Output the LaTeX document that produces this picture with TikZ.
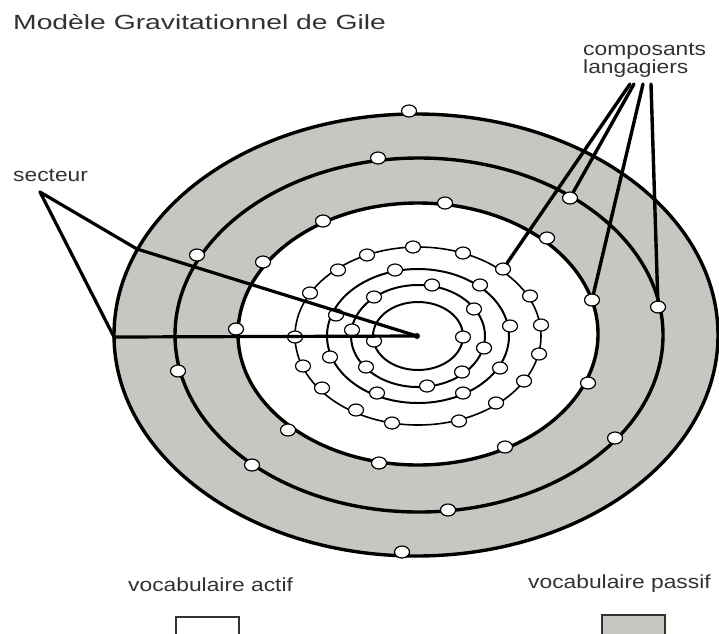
\documentclass[tikz,border=0pt]{standalone}
\usepackage{fontspec}
\usetikzlibrary{shapes.geometric}
\newfontfamily\labfont[FakeStretch=1.2]{Liberation Sans}
\newfontfamily\titfont[FakeStretch=1.38]{Liberation Sans}
\definecolor{ringgray}{RGB}{200,198,192}
\definecolor{txt}{RGB}{50,50,50}
\begin{document}
\begin{tikzpicture}[x=1pt,y=-1pt,
  bigline/.style={line width=3.4pt, black},
  ringline/.style={line width=2pt, black},
  thinring/.style={line width=1.6pt, black},
  pointer/.style={line width=3.2pt, black, line cap=round, line join=round},
  dotc/.style={ellipse, draw=black, fill=white, line width=1.2pt, minimum width=15pt, minimum height=12pt, inner sep=0pt},
  lab/.style={font=\labfont\fontsize{19}{22}\selectfont, text=txt, inner sep=0pt, anchor=base west},
  legendbox/.style={draw=black!80, line width=1.6pt, inner sep=0pt, minimum width=63pt, minimum height=30pt, anchor=north west}]
\useasboundingbox (0,0) rectangle (719,633);
\clip (0,0) rectangle (719,633);
% big ellipses
\coordinate (C1) at (416,335);
\coordinate (C2) at (419,335);
\coordinate (C3) at (418,334);
\fill[ringgray, even odd rule] (C1) ellipse[x radius=302pt, y radius=221pt] (C3) ellipse[x radius=180pt, y radius=131pt];
\draw[bigline] (C1) ellipse[x radius=302pt, y radius=221pt];
\draw[bigline] (C2) ellipse[x radius=244pt, y radius=177pt];
\draw[bigline] (C3) ellipse[x radius=180pt, y radius=131pt];
% small rings
\coordinate (R) at (418,336);
\draw[ringline] (R) ellipse[x radius=45pt, y radius=34pt];
\draw[ringline] (R) ellipse[x radius=67pt, y radius=51pt];
\draw[ringline] (R) ellipse[x radius=91pt, y radius=67pt];
\draw[thinring] (R) ellipse[x radius=123pt, y radius=89pt];
% circles on outer ellipse
\node[dotc] (o1) at (409,111) {};
\node[dotc] (o2) at (402,552) {};
% circles on middle ellipse
\node[dotc] (m1) at (378,158) {};
\node[dotc] (m2) at (570,198) {};
\node[dotc] (m3) at (658,307) {};
\node[dotc] (m4) at (615,438) {};
\node[dotc] (m5) at (448,510) {};
\node[dotc] (m6) at (252,465) {};
\node[dotc] (m7) at (178,371) {};
\node[dotc] (m8) at (197,255) {};
% circles on inner ellipse
\node[dotc] (i1) at (445,203) {};
\node[dotc] (i2) at (547,238) {};
\node[dotc] (i3) at (592,300) {};
\node[dotc] (i4) at (588,383) {};
\node[dotc] (i5) at (505,447) {};
\node[dotc] (i6) at (379,463) {};
\node[dotc] (i7) at (288,430) {};
\node[dotc] (i8) at (236,329) {};
\node[dotc] (i9) at (263,262) {};
\node[dotc] (i10) at (323,221) {};
% ring 4
\node[dotc] (a1) at (413,247) {};
\node[dotc] (a2) at (463,253) {};
\node[dotc] (a3) at (503,269) {};
\node[dotc] (a4) at (530,296) {};
\node[dotc] (a5) at (541,325) {};
\node[dotc] (a6) at (539,354) {};
\node[dotc] (a7) at (524,381) {};
\node[dotc] (a8) at (496,403) {};
\node[dotc] (a9) at (459,421) {};
\node[dotc] (a10) at (392,423) {};
\node[dotc] (a11) at (356,410) {};
\node[dotc] (a12) at (322,388) {};
\node[dotc] (a13) at (303,366) {};
\node[dotc] (a14) at (295,337) {};
\node[dotc] (a15) at (310,293) {};
\node[dotc] (a16) at (338,270) {};
\node[dotc] (a17) at (367,255) {};
% ring 3
\node[dotc] (b1) at (395,270) {};
\node[dotc] (b2) at (480,285) {};
\node[dotc] (b3) at (510,326) {};
\node[dotc] (b4) at (500,368) {};
\node[dotc] (b5) at (463,393) {};
\node[dotc] (b6) at (377,393) {};
\node[dotc] (b7) at (330,357) {};
\node[dotc] (b8) at (336,315) {};
% ring 2
\node[dotc] (c1) at (432,285) {};
\node[dotc] (c2) at (374,297) {};
\node[dotc] (c3) at (474,309) {};
\node[dotc] (c4) at (352,330) {};
\node[dotc] (c5) at (484,348) {};
\node[dotc] (c6) at (366,367) {};
\node[dotc] (c7) at (462,372) {};
\node[dotc] (c8) at (427,386) {};
% ring 1
\node[dotc] (d1) at (463,337) {};
\node[dotc] (d2) at (374,341) {};
% centre
\node[circle, fill=black, inner sep=0pt, minimum size=6pt] (ctr) at (417,336) {};
% secteur
\node[lab] (secteur) at (13,181.5) {secteur};
\coordinate (sA) at (40,192);
\coordinate (A1) at (137,249);
\coordinate (A2) at (114,337);
\draw[pointer] (sA) -- (A1) -- (ctr.center);
\draw[pointer] (sA) -- (A2) -- (ctr.center);
% composants langagiers
\node[lab] (comp) at (583,55) {composants};
\node[lab] (lang) at (583,73.5) {langagiers};
\coordinate (k1) at (630,84);
\coordinate (k2) at (634,84);
\coordinate (k3) at (643,84);
\coordinate (k4) at (651,84);
\draw[pointer, line width=3.4pt] (k1) -- (a3);
\draw[pointer, line width=3.4pt] (k2) -- (m2);
\draw[pointer, line width=3.4pt] (k3) -- (i3);
\draw[pointer, line width=3.4pt] (k4) -- (m3);
% title
\node[font=\titfont\fontsize{20.5}{24}\selectfont, text=txt, inner sep=0pt, anchor=base west] (title) at (13,29.5) {Modèle Gravitationnel de Gile};
% legend
\node[lab] (actif) at (128,591) {vocabulaire actif};
\node[lab] (passif) at (528,588) {vocabulaire passif};
\node[legendbox, fill=white] (boxA) at (175,616) {};
\node[legendbox, fill=ringgray] (boxP) at (601,614) {};
\end{tikzpicture}
\end{document}
